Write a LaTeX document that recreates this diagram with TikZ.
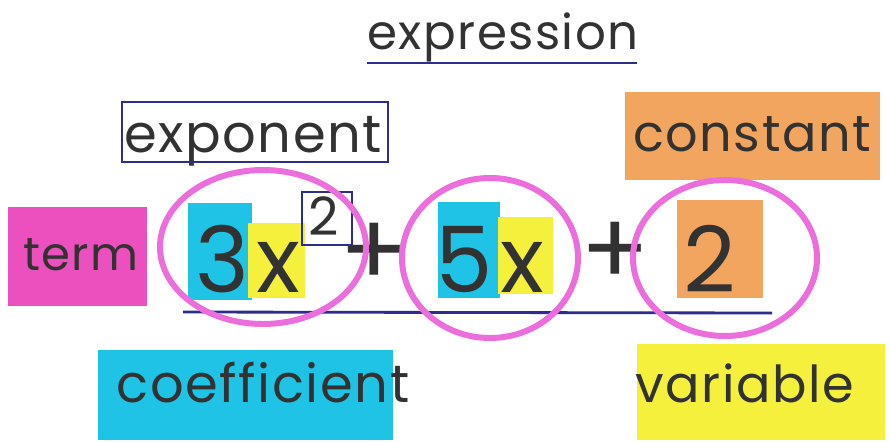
\documentclass[tikz,border=0pt]{standalone}
\usepackage{fontspec}
\setmainfont{Poppins}
\newfontfamily\wordfont[LetterSpace=3,Ligatures=CommonOff]{Poppins}
\usetikzlibrary{positioning}
\definecolor{penblue}{RGB}{45,45,140}
\definecolor{hlpink}{RGB}{236,80,190}
\definecolor{ringpink}{RGB}{236,110,220}
\definecolor{hlcyan}{RGB}{30,195,230}
\definecolor{hlyellow}{RGB}{245,240,60}
\definecolor{hlorange}{RGB}{242,165,95}
\definecolor{ink}{RGB}{50,50,50}
\tikzset{
  word/.style={text=ink, font=\wordfont\fontsize{#1}{30}\selectfont, inner sep=0pt, anchor=base},
  word/.default=29,
  digit/.style={text=ink, font=\fontsize{52}{56}\selectfont, inner sep=0pt, anchor=base},
  power/.style={text=ink, font=\fontsize{30}{32}\selectfont, inner sep=0pt, anchor=base},
  plussign/.style={text=ink, font=\fontsize{58}{62}\selectfont, inner sep=0pt},
  ring/.style={draw=ringpink, line width=3.4pt},
  pen/.style={draw=penblue, line width=1.6pt},
}
\begin{document}
\begin{tikzpicture}[x=0.02cm,y=-0.02cm]
  \useasboundingbox[fill=white] (0,0) rectangle (891,442);
  % highlighter marks
  \fill[hlpink] (8,207) rectangle (147,306);
  \fill[hlcyan] (188,203) rectangle (252,300);
  \fill[hlyellow] (248,223) rectangle (305,298);
  \fill[hlcyan] (438,202) rectangle (500,298);
  \fill[hlyellow] (498,217) rectangle (553,294);
  \fill[hlorange] (677,200) rectangle (763,298);
  \fill[hlorange] (625,92) rectangle (880,180);
  \fill[hlcyan] (98,350) rectangle (393,440);
  \fill[hlyellow] (637,344) rectangle (885,440);

  % labels
  \node[word=27.5] (expr) at (503,50) {expression};
  \node[word=30] (expon) at (253,153) {exponent};
  \node[word] (const) at (752,152) {constant};
  \node[word=26.5] (term) at (81,270) {term};
  \node[word=30] (coef) at (263,402) {coefficient};
  \node[word] (vari) at (745,402) {variable};

  % the expression
  \node[digit] (three) at (222,292) {3};
  \node[digit] (xa) at (278,292) {x};
  \node[power] (sq) at (324,235) {2};
  \node[plussign] (plusa) at (374,255) {+};
  \node[digit] (five) at (464,292) {5};
  \node[digit] (xb) at (522,292) {x};
  \node[plussign] (plusb) at (615,254) {+};
  \node[digit] (two) at (710,292) {2};

  % pen marks
  \draw[pen] (367,63) -- (637,63);
  \draw[pen] (122,102) rectangle (388,162);
  \draw[pen] (302,192) rectangle (352,245);
  \draw[pen] (183,312) -- (772,313);

  % term rings
  \draw[ring] (263,247) ellipse (103 and 77);
  \draw[ring] (490,258) ellipse (88 and 80);
  \draw[ring] (725,258) ellipse (92 and 78);
\end{tikzpicture}
\end{document}
